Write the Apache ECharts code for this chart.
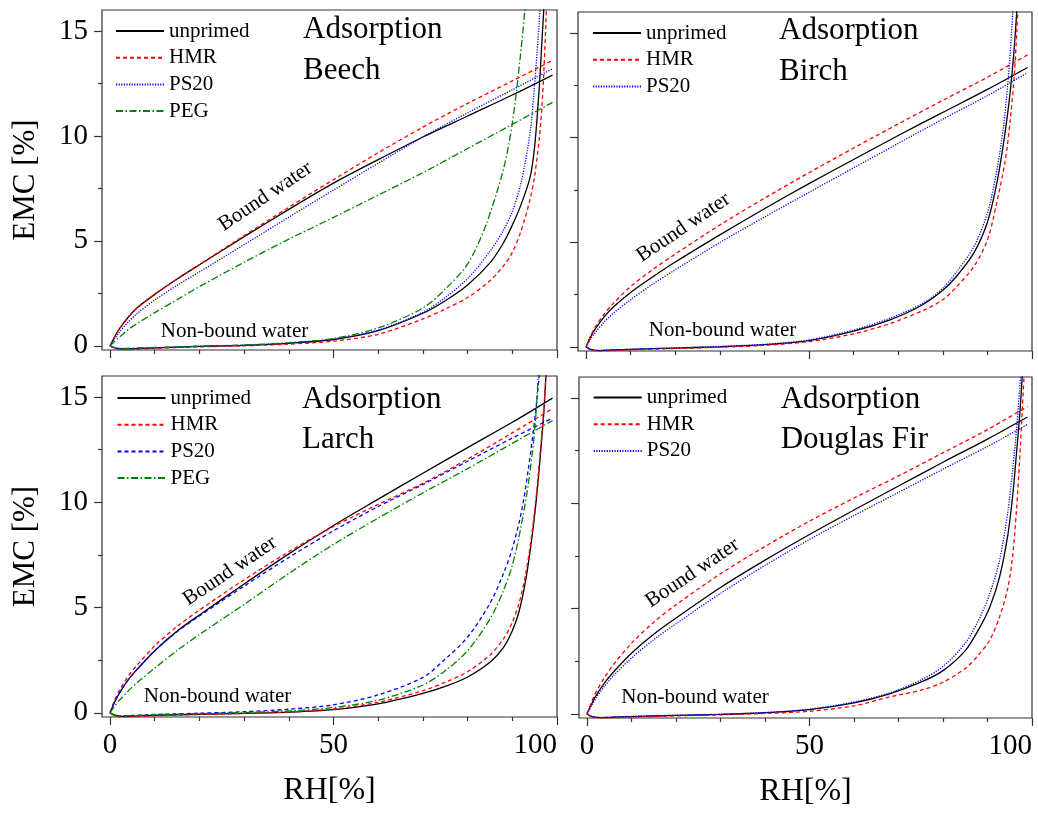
<!DOCTYPE html>
<html>
<head>
<meta charset="utf-8">
<script src="https://cdn.jsdelivr.net/npm/echarts@6/dist/echarts.min.js"></script>
<style>
  html, body { margin: 0; padding: 0; background: #ffffff; }
  #chart { width: 1038px; height: 814px; }
</style>
</head>
<body>
<div id="chart"></div>
<script>
// ---- Axis ticks -------------------------------------------------------
const RH_TICKS = [0, 50, 100];
const RH_MINOR = [10, 20, 30, 40, 60, 70, 80, 90];
const EMC_TICKS = [0, 5, 10, 15];
const EMC_MINOR = [2.5, 7.5, 12.5];

// ---- Bound water (shared RH grid, EMC in %) -------------------------------
const RH_BOUND = [0, 1, 2, 4, 6, 10, 15, 20, 30, 40, 50, 60, 70, 80, 90, 99];

const BEECH_BOUND_UNPRIMED = [0, 0.42, 0.78, 1.35, 1.8, 2.45, 3.18, 3.86, 5.2, 6.5, 7.75, 8.87, 9.95, 10.95, 11.95, 12.9];
const BEECH_BOUND_HMR      = [0, 0.4, 0.76, 1.33, 1.78, 2.45, 3.18, 3.87, 5.25, 6.6, 7.92, 9.2, 10.42, 11.55, 12.62, 13.6];
const BEECH_BOUND_PS20     = [0, 0.32, 0.62, 1.12, 1.53, 2.18, 2.88, 3.52, 4.82, 6.13, 7.42, 8.7, 9.95, 11.1, 12.2, 13.2];
const BEECH_BOUND_PEG      = [0, 0.2, 0.4, 0.76, 1.05, 1.58, 2.2, 2.82, 3.98, 5.08, 6.12, 7.18, 8.25, 9.4, 10.55, 11.6];

const BIRCH_BOUND_UNPRIMED = [0, 0.46, 0.83, 1.42, 1.88, 2.6, 3.35, 4.05, 5.35, 6.6, 7.8, 8.95, 10.1, 11.2, 12.3, 13.35];
const BIRCH_BOUND_HMR      = [0, 0.5, 0.92, 1.55, 2.05, 2.88, 3.7, 4.43, 5.82, 7.1, 8.32, 9.5, 10.65, 11.78, 12.88, 13.95];
const BIRCH_BOUND_PS20     = [0, 0.36, 0.67, 1.17, 1.58, 2.25, 3.0, 3.68, 4.98, 6.2, 7.38, 8.55, 9.72, 10.88, 12.0, 13.1];

const LARCH_BOUND_UNPRIMED = [0, 0.5, 0.9, 1.55, 2.05, 2.95, 3.88, 4.65, 6.12, 7.55, 8.9, 10.15, 11.38, 12.6, 13.8, 14.95];
const LARCH_BOUND_HMR      = [0, 0.58, 1.03, 1.72, 2.25, 3.18, 4.1, 4.88, 6.32, 7.65, 8.85, 9.9, 10.9, 12.05, 13.3, 14.45];
const LARCH_BOUND_PS20     = [0, 0.5, 0.9, 1.55, 2.05, 2.95, 3.85, 4.6, 6.02, 7.38, 8.65, 9.8, 10.85, 11.95, 13.05, 14.0];
const LARCH_BOUND_PEG      = [0, 0.3, 0.57, 1.02, 1.42, 2.12, 2.96, 3.72, 5.15, 6.62, 8.0, 9.25, 10.45, 11.6, 12.8, 13.88];

const FIR_BOUND_UNPRIMED   = [0, 0.45, 0.85, 1.48, 2.0, 2.88, 3.78, 4.55, 6.0, 7.3, 8.52, 9.68, 10.82, 11.95, 13.05, 14.1];
const FIR_BOUND_HMR        = [0, 0.55, 1.02, 1.75, 2.35, 3.35, 4.35, 5.18, 6.65, 7.95, 9.15, 10.25, 11.3, 12.4, 13.5, 14.6];
const FIR_BOUND_PS20       = [0, 0.38, 0.75, 1.32, 1.82, 2.65, 3.52, 4.28, 5.72, 7.05, 8.28, 9.42, 10.52, 11.62, 12.7, 13.75];

// ---- Non-bound water ([RH %, EMC %]) -----------------------------------------
const BEECH_FREE_UNPRIMED = [[0,0],[1,-0.1],[3,-0.15],[6,-0.13],[10,-0.1],[20,-0.03],[30,0.02],[40,0.12],[50,0.3],[60,0.72],[70,1.55],[75,2.15],[80,2.9],[85,3.95],[88,4.9],[90,5.75],[92,6.75],[94,8.05],[95,9.5],[96,12.2],[96.6,14.4],[97.3,17]];
const BEECH_FREE_HMR      = [[0,0],[1,-0.12],[3,-0.18],[6,-0.16],[10,-0.12],[20,-0.05],[30,0],[40,0.08],[50,0.22],[60,0.55],[70,1.28],[75,1.75],[80,2.3],[85,3.1],[88,3.8],[90,4.45],[92,5.5],[94,7.0],[95,8.1],[96,9.8],[96.6,11.3],[97,12.8],[97.5,15.3],[98,18.5]];
const BEECH_FREE_PS20     = [[0,0],[1,-0.1],[3,-0.15],[6,-0.13],[10,-0.1],[20,-0.03],[30,0.03],[40,0.13],[50,0.32],[60,0.75],[70,1.6],[75,2.3],[80,3.2],[85,4.5],[88,5.5],[90,6.4],[92,7.8],[94,10.2],[95,12.5],[96,15.4],[96.6,18]];
const BEECH_FREE_PEG      = [[0,0],[1,-0.08],[3,-0.12],[6,-0.1],[10,-0.08],[20,-0.02],[30,0.04],[40,0.15],[50,0.35],[60,0.85],[70,1.8],[75,2.7],[80,3.9],[84,5.7],[88,8.4],[90,10.6],[91.7,13.6],[92.8,16],[93.5,18]];

const BIRCH_FREE_UNPRIMED = [[0,0],[1,-0.12],[3,-0.18],[6,-0.15],[10,-0.12],[20,-0.06],[30,0],[40,0.1],[50,0.3],[60,0.75],[68,1.28],[75,1.95],[80,2.7],[83,3.35],[87,4.5],[90,5.95],[92,7.7],[93.6,9.7],[94.8,11.6],[95.5,13],[96.3,15.1],[97,17.5]];
const BIRCH_FREE_HMR      = [[0,0],[1,-0.14],[3,-0.2],[6,-0.18],[10,-0.15],[20,-0.08],[30,-0.02],[40,0.07],[50,0.25],[60,0.62],[68,1.1],[75.7,1.75],[80,2.25],[83,2.85],[87,3.85],[90,5.1],[92,6.8],[94,8.9],[95.1,10.8],[96,12.9],[96.6,15.1],[97.2,18]];
const BIRCH_FREE_PS20     = [[0,0],[1,-0.12],[3,-0.17],[6,-0.15],[10,-0.12],[20,-0.05],[30,0.02],[40,0.12],[50,0.33],[60,0.8],[68,1.36],[75.7,2.1],[80,2.8],[83,3.55],[87,4.8],[90,6.4],[92,8.3],[93.6,10.5],[94.5,12.4],[95.1,14],[95.7,16],[96.3,18]];

const LARCH_FREE_UNPRIMED = [[0,0],[1,-0.12],[3,-0.17],[6,-0.15],[10,-0.12],[20,-0.07],[30,-0.03],[40,0.03],[50,0.15],[60,0.42],[70,0.92],[75,1.25],[80,1.7],[85,2.4],[88,3.1],[90,3.9],[91.5,4.8],[93,6.3],[94.5,8.5],[95.5,10.4],[96.3,12.3],[97,14.1],[97.6,16.3],[98,18]];
const LARCH_FREE_HMR      = [[0,0],[1,-0.14],[3,-0.2],[6,-0.18],[10,-0.14],[20,-0.08],[30,-0.03],[40,0.04],[50,0.18],[60,0.5],[70,1.05],[75,1.45],[80,1.95],[85,2.75],[88,3.5],[90,4.3],[91.5,5.2],[93,6.6],[94.5,8.7],[95.5,10.6],[96.3,12.5],[97,14.3],[97.6,16.3],[98,18]];
const LARCH_FREE_PS20     = [[0,0],[1,-0.1],[3,-0.15],[6,-0.12],[10,-0.08],[20,-0.02],[30,0.05],[40,0.17],[50,0.38],[60,0.85],[70,1.68],[75,2.55],[80,3.6],[85,5.2],[88,6.6],[90,7.8],[92,9.5],[93.6,11.6],[95,13.9],[96,16],[96.7,18]];
const LARCH_FREE_PEG      = [[0,0],[1,-0.1],[3,-0.14],[6,-0.12],[10,-0.09],[20,-0.04],[30,0.01],[40,0.09],[50,0.25],[60,0.6],[70,1.32],[75,2.0],[80,2.95],[85,4.45],[88,5.8],[90,7.0],[92,8.9],[93.6,10.9],[95,13.4],[95.8,16],[96.5,18.5]];

const FIR_FREE_UNPRIMED   = [[0,0],[1,-0.12],[3,-0.18],[6,-0.16],[10,-0.13],[20,-0.08],[30,-0.03],[40,0.05],[50,0.2],[60,0.52],[68,0.95],[75,1.5],[80,2.05],[85,3.0],[88,4.0],[90.5,5.06],[92.7,6.49],[94.6,8.54],[95.7,10.44],[96.5,12.34],[97.2,14.08],[97.8,16],[98.3,18]];
const FIR_FREE_HMR        = [[0,0],[1,-0.14],[3,-0.2],[6,-0.18],[10,-0.15],[20,-0.1],[30,-0.05],[40,0.02],[50,0.12],[60,0.38],[68,0.8],[75,1.12],[80,1.5],[85,2.15],[88,2.8],[90.5,3.5],[92.7,4.6],[94.6,6.0],[95.7,7.6],[96.5,9.65],[97.2,12.0],[97.8,14.4],[98.2,16],[98.6,18]];
const FIR_FREE_PS20       = [[0,0],[1,-0.12],[3,-0.17],[6,-0.15],[10,-0.12],[20,-0.07],[30,-0.02],[40,0.06],[50,0.22],[60,0.56],[68,0.99],[75,1.6],[80,2.25],[85,3.35],[88,4.45],[90.5,5.7],[92.7,7.28],[94.6,9.65],[95.7,11.7],[96.5,13.45],[97.2,15.35],[97.5,16.2],[98,18]];

// ---- Styling ---------------------------------------------------------------
const FONT = 'Liberation Serif';
const INK = '#333333';
const COLORS = { unprimed: '#000000', HMR: '#ff0000', PS20: '#0000ff', PEG: '#008000' };
const DASHES = { solid: 'solid', dashed: [4, 3], dotted: [1.2, 1.4], dashDot: [7, 2.5, 1.5, 2.5] };

const panels = [
  {
    species: 'Beech', grid: { left: 102, top: 10, width: 455, height: 340 }, bottomRow: false, leftCol: true,
    bound: { unprimed: BEECH_BOUND_UNPRIMED, HMR: BEECH_BOUND_HMR, PS20: BEECH_BOUND_PS20, PEG: BEECH_BOUND_PEG },
    free:  { unprimed: BEECH_FREE_UNPRIMED, HMR: BEECH_FREE_HMR, PS20: BEECH_FREE_PS20, PEG: BEECH_FREE_PEG },
    dash:  { unprimed: 'solid', HMR: 'dashed', PS20: 'dotted', PEG: 'dashDot' },
    legend: { left: 115, top: 20.5 }, title: { left: 303, top: 10 },
    boundLabel: [265.5, 196.5], freeLabel: [234.5, 331]
  },
  {
    species: 'Birch', grid: { left: 578, top: 12, width: 454, height: 339 }, bottomRow: false, leftCol: false,
    bound: { unprimed: BIRCH_BOUND_UNPRIMED, HMR: BIRCH_BOUND_HMR, PS20: BIRCH_BOUND_PS20 },
    free:  { unprimed: BIRCH_FREE_UNPRIMED, HMR: BIRCH_FREE_HMR, PS20: BIRCH_FREE_PS20 },
    dash:  { unprimed: 'solid', HMR: 'dashed', PS20: 'dotted' },
    legend: { left: 592, top: 22.5 }, title: { left: 779, top: 11 },
    boundLabel: [683.5, 227.5], freeLabel: [722.5, 330]
  },
  {
    species: 'Larch', grid: { left: 102, top: 376, width: 455, height: 341 }, bottomRow: true, leftCol: true,
    bound: { unprimed: LARCH_BOUND_UNPRIMED, HMR: LARCH_BOUND_HMR, PS20: LARCH_BOUND_PS20, PEG: LARCH_BOUND_PEG },
    free:  { unprimed: LARCH_FREE_UNPRIMED, HMR: LARCH_FREE_HMR, PS20: LARCH_FREE_PS20, PEG: LARCH_FREE_PEG },
    dash:  { unprimed: 'solid', HMR: 'dashed', PS20: 'dashed', PEG: 'dashDot' },
    legend: { left: 116.5, top: 387.5 }, title: { left: 302, top: 379.5 },
    boundLabel: [230, 571], freeLabel: [217.5, 696]
  },
  {
    species: 'Douglas Fir', grid: { left: 579, top: 377, width: 453, height: 341 }, bottomRow: true, leftCol: false,
    bound: { unprimed: FIR_BOUND_UNPRIMED, HMR: FIR_BOUND_HMR, PS20: FIR_BOUND_PS20 },
    free:  { unprimed: FIR_FREE_UNPRIMED, HMR: FIR_FREE_HMR, PS20: FIR_FREE_PS20 },
    dash:  { unprimed: 'solid', HMR: 'dashed', PS20: 'dotted' },
    legend: { left: 592.7, top: 387 }, title: { left: 780.7, top: 379.5 },
    boundLabel: [692.5, 573], freeLabel: [695, 697]
  }
];

// ---- Build option ----------------------------------------------------------
const grids = [], xAxes = [], yAxes = [], series = [], legends = [], titles = [], graphics = [];
const labelText = { fontFamily: FONT, color: '#000000' };
const seriesName = (p, t) => p.species + ': ' + t;

panels.forEach((p, i) => {
  grids.push(Object.assign({
    show: true, borderColor: INK, borderWidth: 1.2, backgroundColor: 'transparent',
    containLabel: false, outerBoundsMode: 'none'
  }, p.grid));

  // main axes: labelled ticks
  xAxes.push({
    type: 'value', gridIndex: i, min: -1.8, max: 100, position: 'bottom',
    axisLine: { show: false, onZero: false },
    axisTick: { show: true, inside: false, length: 8, customValues: RH_TICKS, lineStyle: { color: INK, width: 1.2 } },
    axisLabel: { show: p.bottomRow, customValues: RH_TICKS, alignMaxLabel: 'right', margin: 14, fontSize: 29, ...labelText },
    splitLine: { show: false },
    name: p.bottomRow ? 'RH[%]' : '', nameLocation: 'middle', nameGap: 58, nameMoveOverlap: false,
    nameTextStyle: { fontSize: 32, ...labelText }
  });
  yAxes.push({
    type: 'value', gridIndex: i, min: -0.2, max: 16, position: 'left',
    axisLine: { show: false, onZero: false },
    axisTick: { show: true, inside: false, length: 8, customValues: EMC_TICKS, lineStyle: { color: INK, width: 1.2 } },
    axisLabel: { show: p.leftCol, customValues: EMC_TICKS, margin: 14, fontSize: 29, ...labelText },
    splitLine: { show: false },
    name: p.leftCol ? 'EMC [%]' : '', nameLocation: 'middle', nameRotate: 90, nameGap: 61, nameMoveOverlap: false,
    nameTextStyle: { fontSize: 31, ...labelText }
  });

  // each series: bound water curve + non-bound water curve
  Object.keys(p.bound).forEach(t => {
    const common = {
      type: 'line', name: seriesName(p, t), xAxisIndex: i, yAxisIndex: i,
      color: COLORS[t], symbol: 'none', showSymbol: false, smooth: 0.3, clip: true,
      animation: false, silent: true, emphasis: { disabled: true },
      lineStyle: { color: COLORS[t], width: 1.3, type: DASHES[p.dash[t]] }
    };
    series.push(Object.assign({}, common, { data: RH_BOUND.map((rh, k) => [rh, p.bound[t][k]]) }));
    series.push(Object.assign({}, common, { data: p.free[t] }));
  });

  legends.push({
    orient: 'vertical', left: p.legend.left, top: p.legend.top, padding: 0,
    itemWidth: 48, itemHeight: 14, itemGap: 5.7,
    data: Object.keys(p.bound).map(t => seriesName(p, t)),
    formatter: n => n.slice(n.indexOf(': ') + 2),
    itemStyle: { opacity: 0, color: 'rgba(0,0,0,0)', borderColor: 'rgba(0,0,0,0)', borderWidth: 0 },
    lineStyle: { opacity: 1 },
    textStyle: { fontSize: 21, lineHeight: 21, ...labelText }
  });

  titles.push({
    text: 'Adsorption\n' + p.species, left: p.title.left, top: p.title.top, padding: 0,
    textStyle: { fontSize: 31, fontWeight: 'normal', lineHeight: 40.5, ...labelText }
  });

  graphics.push({
    type: 'text', x: p.boundLabel[0], y: p.boundLabel[1], rotation: 34 * Math.PI / 180, silent: true,
    style: { text: 'Bound water', fill: '#000000', font: '21px "Liberation Serif"',
             align: 'center', verticalAlign: 'middle', textAlign: 'center', textVerticalAlign: 'middle' }
  });
  graphics.push({
    type: 'text', x: p.freeLabel[0], y: p.freeLabel[1], silent: true,
    style: { text: 'Non-bound water', fill: '#000000', font: '21px "Liberation Serif"',
             align: 'center', verticalAlign: 'middle', textAlign: 'center', textVerticalAlign: 'middle' }
  });
});

// secondary axes carrying the unlabelled minor ticks
panels.forEach((p, i) => {
  xAxes.push({
    type: 'value', gridIndex: i, min: -1.8, max: 100, position: 'bottom',
    axisLine: { show: false, onZero: false }, axisLabel: { show: false }, splitLine: { show: false },
    axisTick: { show: true, inside: false, length: 4, customValues: RH_MINOR, lineStyle: { color: INK, width: 1.2 } }
  });
  yAxes.push({
    type: 'value', gridIndex: i, min: -0.2, max: 16, position: 'left',
    axisLine: { show: false, onZero: false }, axisLabel: { show: false }, splitLine: { show: false },
    axisTick: { show: true, inside: false, length: 4, customValues: EMC_MINOR, lineStyle: { color: INK, width: 1.2 } }
  });
});

const chart = echarts.init(document.getElementById('chart'), null, { renderer: 'canvas' });
chart.setOption({
  backgroundColor: '#ffffff',
  animation: false,
  title: titles,
  legend: legends,
  grid: grids,
  xAxis: xAxes,
  yAxis: yAxes,
  series: series,
  graphic: graphics
});
</script>
</body>
</html>
